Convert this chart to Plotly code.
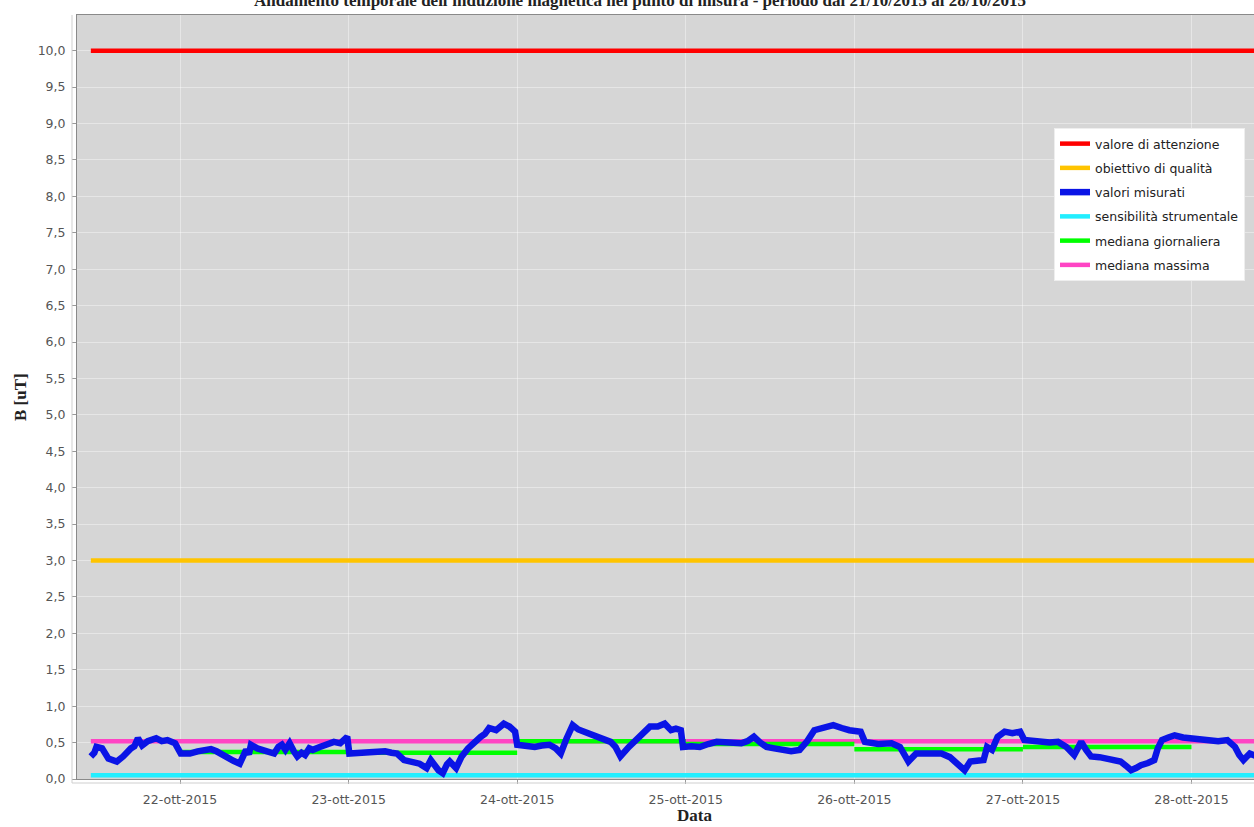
import pandas as pd
import plotly.graph_objects as go

# ---------------- data ----------------
origin = "2015-10-22 00:00"
# hours from 22-ott-2015 00:00 and measured B [uT]
meas_hours = [-12.7, -12.2, -11.9, -11.1, -10.2, -9.0, -8.1, -7.5, -7.0, -6.5, -6.0, -5.4, -4.6, -3.4, -2.6,
              -1.8, -1.2, -0.7, 0.1, 1.4, 2.5, 3.6, 4.4, 5.2, 6.0, 6.9, 7.6, 8.5, 9.0, 9.4, 9.8, 10.1,
              11.0, 11.8, 12.6, 13.4, 14.0, 14.5, 15.0, 15.6, 16.2, 16.7, 17.3, 17.8, 18.4, 18.9, 19.9,
              20.8, 21.9, 22.8, 23.8, 24.1, 25.3, 26.5, 27.8, 29.2, 30.1, 30.9, 31.9, 33.0, 34.1, 35.1,
              35.7, 36.8, 37.4, 38.0, 38.4, 39.3, 40.1, 41.0, 41.7, 42.8, 43.4, 44.0, 45.0, 46.1, 46.9,
              47.7, 48.0, 49.2, 50.5, 51.5, 52.6, 53.5, 54.2, 55.0, 55.9, 56.7, 57.5, 58.6, 59.7, 60.5,
              61.3, 62.0, 62.7, 63.9, 64.8, 65.7, 66.9, 68.0, 69.0, 69.9, 70.6, 71.3, 71.6, 72.8, 74.0,
              75.2, 76.4, 78.2, 79.9, 80.8, 81.7, 82.6, 83.5, 84.6, 85.8, 87.0, 88.2, 89.3, 90.3, 91.6,
              93.0, 94.2, 95.3, 96.9, 97.5, 99.4, 101.3, 102.5, 103.7, 104.8, 106.6, 108.4, 109.6, 110.8,
              111.7, 112.5, 113.5, 114.4, 114.9, 115.6, 116.4, 117.4, 118.5, 119.6, 120.2, 121.4, 122.6,
              123.8, 125.0, 126.2, 127.3, 128.3, 129.0, 129.7, 130.9, 132.1, 133.0, 133.9, 134.7, 135.4,
              136.1, 136.8, 137.8, 138.7, 139.2, 139.8, 140.7, 141.6, 142.8, 144.0, 145.2, 146.4, 147.8,
              149.1, 150.2, 150.8, 151.4, 152.3, 152.8, 153.5]
meas_values = [0.31, 0.36, 0.44, 0.42, 0.28, 0.24, 0.31, 0.38, 0.42, 0.45, 0.56, 0.46, 0.52, 0.56, 0.52,
               0.535, 0.50, 0.49, 0.35, 0.35, 0.38, 0.40, 0.41, 0.38, 0.33, 0.28, 0.25, 0.21, 0.30, 0.40, 0.34, 0.47,
               0.42, 0.40, 0.38, 0.35, 0.44, 0.47, 0.40, 0.49, 0.38, 0.31, 0.36, 0.33, 0.42, 0.40, 0.44,
               0.47, 0.51, 0.49, 0.58, 0.35, 0.36, 0.35, 0.37, 0.38, 0.36, 0.35, 0.26, 0.24, 0.21, 0.15,
               0.26, 0.12, 0.08, 0.20, 0.24, 0.15, 0.31, 0.42, 0.49, 0.58, 0.62, 0.70, 0.67, 0.76, 0.72,
               0.65, 0.47, 0.46, 0.44, 0.46, 0.47, 0.42, 0.35, 0.55, 0.74, 0.68, 0.65, 0.60, 0.58, 0.55,
               0.51, 0.44, 0.31, 0.44, 0.52, 0.60, 0.72, 0.72, 0.76, 0.67, 0.69, 0.67, 0.44, 0.45, 0.44,
               0.48, 0.51, 0.50, 0.49, 0.52, 0.58, 0.50, 0.44, 0.42, 0.40, 0.38, 0.40, 0.52, 0.67, 0.70,
               0.74, 0.70, 0.67, 0.65, 0.51, 0.48, 0.49, 0.44, 0.24, 0.35, 0.36, 0.35, 0.30, 0.21,
               0.12, 0.24, 0.25, 0.26, 0.44, 0.40, 0.58, 0.65, 0.63, 0.65, 0.535, 0.52, 0.51,
               0.50, 0.51, 0.44, 0.33, 0.51, 0.40, 0.31, 0.30, 0.28, 0.26, 0.24, 0.18, 0.12,
               0.15, 0.19, 0.22, 0.26, 0.42, 0.535, 0.57, 0.60, 0.57, 0.56, 0.54, 0.535, 0.52,
               0.535, 0.44, 0.33, 0.26, 0.35, 0.33, 0.30]

median_days = ["2015-10-22", "2015-10-23", "2015-10-24", "2015-10-25", "2015-10-26", "2015-10-27"]
median_values = [0.37, 0.36, 0.52, 0.48, 0.41, 0.44]
median_max = 0.52

attention_value = 10.0
quality_goal = 3.0
sensitivity = 0.05

tick_days = ["2015-10-22", "2015-10-23", "2015-10-24", "2015-10-25", "2015-10-26", "2015-10-27", "2015-10-28"]
tick_labels = ["22-ott-2015", "23-ott-2015", "24-ott-2015", "25-ott-2015", "26-ott-2015", "27-ott-2015", "28-ott-2015"]

range_hours = [-14.67, 152.9]
y_range = [0, 10.49]

title_text = "Andamento temporale dell'induzione magnetica nel punto di misura - periodo dal 21/10/2015 al 28/10/2015"

# ---------------- build ----------------
t0 = pd.Timestamp(origin)
meas_x = [t0 + pd.Timedelta(hours=h) for h in meas_hours]
span = [meas_x[0], meas_x[-1]]

med_x, med_y = [], []
for d, v in zip(median_days, median_values):
    s = pd.Timestamp(d)
    med_x += [s, s + pd.Timedelta(days=1), None]
    med_y += [v, v, None]

fig = go.Figure()

def hline(name, val, color, rank, width=4.5):
    fig.add_trace(go.Scatter(x=span, y=[val, val], mode="lines", name=name,
                             line=dict(color=color, width=width),
                             legendrank=rank, legendgroup=name, hoverinfo="skip"))

hline("valore di attenzione", attention_value, "#ff0000", 1)
hline("obiettivo di qualità", quality_goal, "#ffc400", 2)
hline("sensibilità strumentale", sensitivity, "#22eeff", 4)
hline("mediana massima", median_max, "#ff44c4", 6)
fig.add_trace(go.Scatter(x=med_x, y=med_y, mode="lines", name="mediana giornaliera",
                         line=dict(color="#00ff00", width=4.5), legendrank=5,
                         legendgroup="mediana giornaliera", connectgaps=False))
fig.add_trace(go.Scatter(x=meas_x, y=meas_values, mode="lines", name="valori misurati",
                         line=dict(color="#0a14e6", width=6.5), legendrank=3,
                         legendgroup="valori misurati"))

tick_font = dict(family="DejaVu Sans", size=12.5, color="#555555")
serif_bold = dict(family="Liberation Serif", size=17, color="#222222")

plot_w = 1254 - 77
plot_h = 779 - 15

fig.update_layout(
    width=1254, height=827,
    margin=dict(l=77, r=0, t=15, b=48),
    paper_bgcolor="white",
    plot_bgcolor="#d6d6d6",
    separators=",.",
    showlegend=True,
    legend=dict(x=(1054 - 77) / plot_w, y=(779 - 128) / plot_h, xanchor="left", yanchor="top",
                bgcolor="white", bordercolor="#eeeeee", borderwidth=1,
                font=dict(family="DejaVu Sans", size=12.5, color="#222222"),
                itemwidth=30, tracegroupgap=5, traceorder="grouped"),
    xaxis=dict(
        type="date",
        range=[t0 + pd.Timedelta(hours=range_hours[0]), t0 + pd.Timedelta(hours=range_hours[1])],
        tickvals=[pd.Timestamp(d) for d in tick_days], ticktext=tick_labels,
        tickfont=tick_font, ticks="outside", ticklen=4, tickcolor="#999999",
        ticklabelstandoff=5,
        showgrid=True, gridcolor="rgba(255,255,255,0.4)", gridwidth=1,
        showline=True, linecolor="#8a8a8a", linewidth=1, mirror=True,
        zeroline=False,
    ),
    yaxis=dict(
        range=y_range,
        tickvals=[i * 0.5 for i in range(21)], tickformat=".1f",
        tickfont=tick_font, ticks="outside", ticklen=4, tickcolor="#999999",
        ticklabelstandoff=4,
        showgrid=True, gridcolor="rgba(255,255,255,0.4)", gridwidth=1,
        showline=True, linecolor="#8a8a8a", linewidth=1, mirror=True,
        zeroline=False,
    ),
    annotations=[
        dict(text="<b>B [uT]</b>", xref="paper", yref="paper", x=-(77 - 20) / plot_w, y=0.5,
             textangle=-90, showarrow=False, font=serif_bold, xanchor="center", yanchor="middle"),
        dict(text="<b>Data</b>", xref="paper", yref="paper", x=(694 - 77) / plot_w,
             y=-(815 - 779) / plot_h, showarrow=False, font=serif_bold,
             xanchor="center", yanchor="middle"),
        dict(text="<b>" + title_text + "</b>", xref="paper", yref="paper", x=(640 - 77) / plot_w,
             y=1 + (15 - 12) / plot_h, showarrow=False, font=dict(family="Liberation Serif", size=17, color="#222222"),
             xanchor="center", yanchor="bottom"),
    ],
    shapes=[
        dict(type="line", xref="paper", yref="paper", x0=-5 / plot_w, x1=-5 / plot_w, y0=-4 / plot_h, y1=1,
             line=dict(color="#cfcfcf", width=1)),
        dict(type="line", xref="paper", yref="paper", x0=-5 / plot_w, x1=1, y0=-4 / plot_h, y1=-4 / plot_h,
             line=dict(color="#cfcfcf", width=1)),
    ],
)

fig.write_html("out.html", config={"displayModeBar": False},
               post_script="document.body.style.margin='0px';document.body.style.overflow='hidden';")
